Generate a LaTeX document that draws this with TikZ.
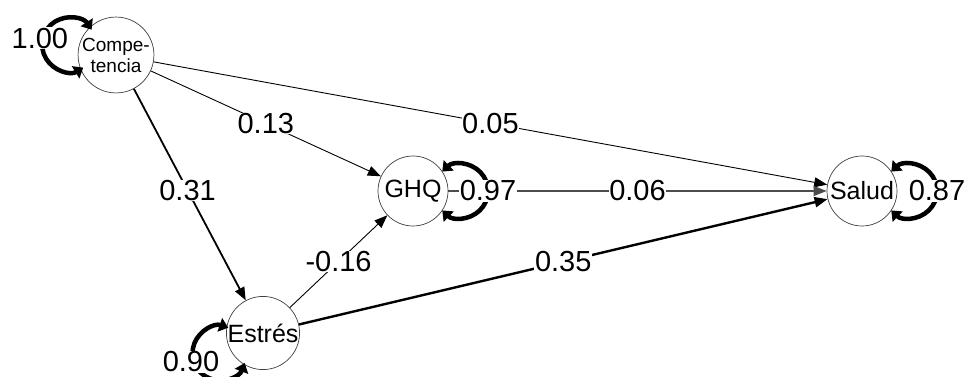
\documentclass[tikz,border=0pt]{standalone}
\usepackage{fontspec}
\setmainfont{Liberation Sans}
\usetikzlibrary{arrows.meta,calc}
\begin{document}
\begin{tikzpicture}[x=1pt,y=1pt,
  latent/.style={circle,draw=black!75,line width=0.7pt,minimum size=70pt,inner sep=0pt,fill=white,
    font=\fontsize{25}{27}\selectfont},
  edgepath/.style={-{Triangle[length=13pt,width=10pt]},draw=black},
  lbl/.style={fill=white,inner sep=0.6pt,font=\fontsize{29}{29}\selectfont},
  resid/.style={line width=4.5pt,{Triangle[length=9pt,width=14pt]}-{Triangle[length=9pt,width=14pt]}}
]
\useasboundingbox (0,0) rectangle (970,-377);

% latent variables
\node[latent,font=\fontsize{19}{21}\selectfont,align=center] (C) at (116,-55) {Compe-\\tencia};
\node[latent] (G) at (413,-191) {GHQ};
\node[latent] (S) at (862,-191) {Salud};
\node[latent] (E) at (263,-333) {Estrés};

% directed paths
\draw[edgepath,line width=0.9pt] (C) -- (G) node[lbl,pos=0.5] {0.13};
\draw[edgepath,line width=0.9pt] (C) -- (S) node[lbl,pos=0.5] {0.05};
\draw[edgepath,line width=1.8pt] (C) -- (E) node[lbl,pos=0.48] {0.31};
\draw[edgepath,line width=0.9pt] (E) -- (G) node[lbl,pos=0.5] {-0.16};
\draw[edgepath,line width=2.4pt] (E) -- (S) node[lbl,pos=0.5] {0.35};
\draw[edgepath,line width=1.1pt,draw=black!70] (G) -- (S) node[lbl,pos=0.5] {0.06};

% residual variances
\draw[resid] ($(C)+(167.5:48)+(301.5:27)$) arc[start angle=301.5, end angle=33.5, radius=27];
\node[lbl] (rC) at ($(C)+(167.5:78)$) {1.00};

\draw[resid] ($(G)+(0:48)+(134:27)$) arc[start angle=134, end angle=-134, radius=27];
\node[lbl] (rG) at ($(G)+(0:75)$) {0.97};

\draw[resid] ($(S)+(0:48)+(134:27)$) arc[start angle=134, end angle=-134, radius=27];
\node[lbl] (rS) at ($(S)+(0:75)$) {0.87};

\draw[resid] ($(E)+(205:48)+(339:27)$) arc[start angle=339, end angle=71, radius=27];
\node[lbl] (rE) at (191,-362) {0.90};
\end{tikzpicture}
\end{document}
